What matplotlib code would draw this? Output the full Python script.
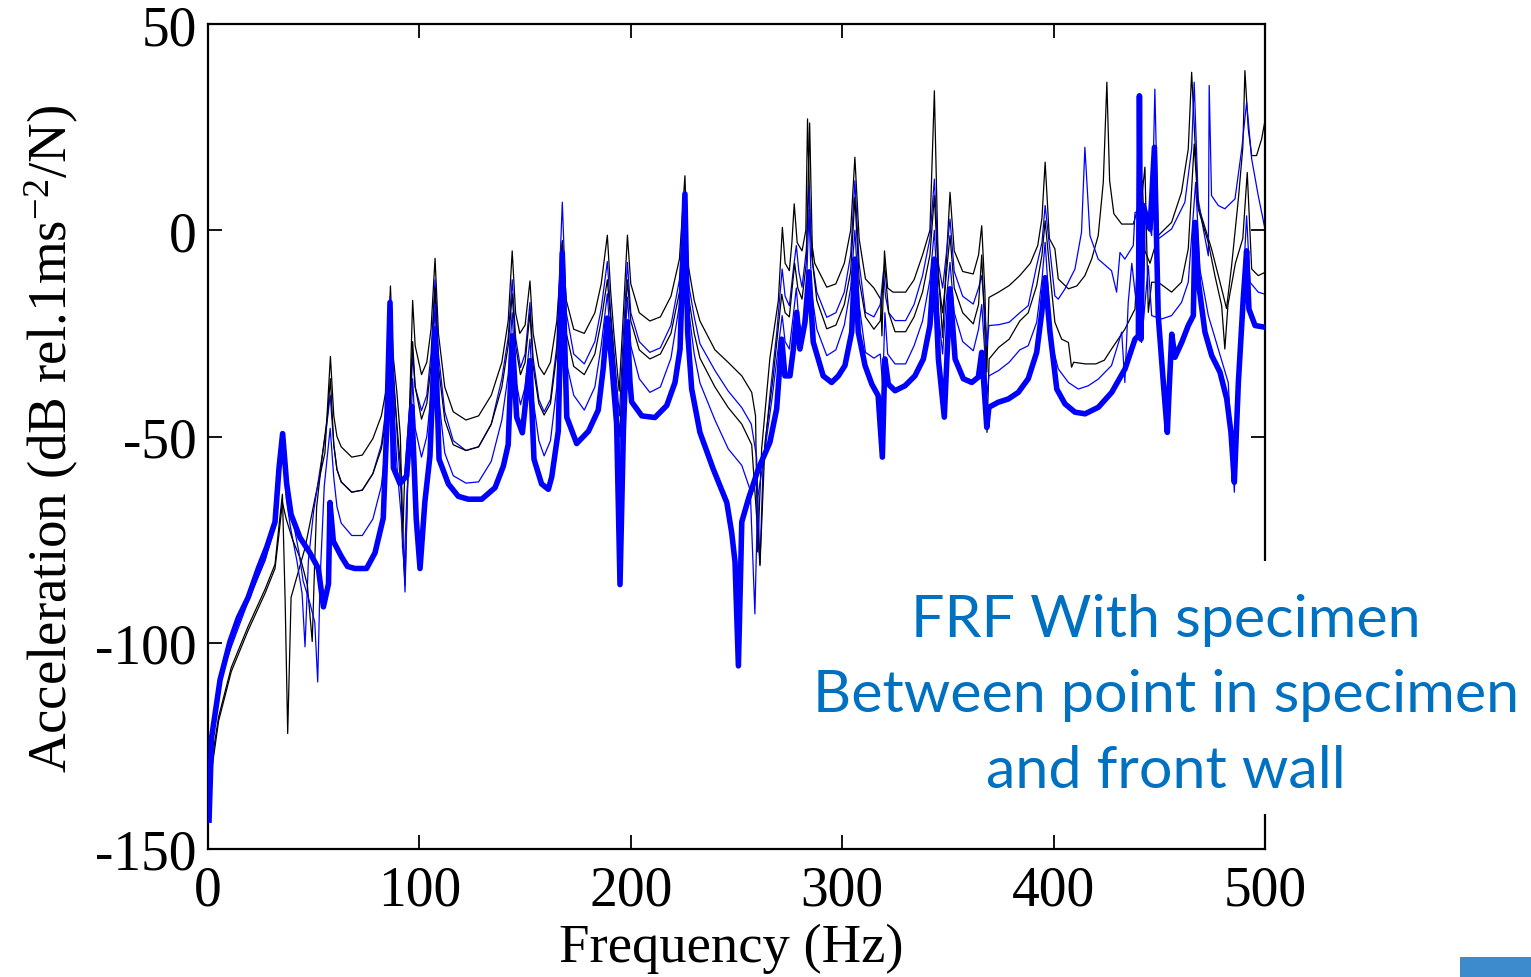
import matplotlib
matplotlib.use('Agg')
import matplotlib.pyplot as plt
from matplotlib.patches import Rectangle

plt.rcParams['font.family'] = ['Liberation Serif', 'DejaVu Serif']
plt.rcParams['mathtext.fontset'] = 'custom'
plt.rcParams['mathtext.rm'] = 'Liberation Serif'
plt.rcParams['mathtext.it'] = 'Liberation Serif:italic'
plt.rcParams['axes.unicode_minus'] = False

x_ticks = [0, 100, 200, 300, 400, 500]
y_ticks = [-150, -100, -50, 0, 50]
x_label = 'Frequency (Hz)'
y_label = r'Acceleration (dB rel.1ms$^{-2}$/N)'
note_lines = ['FRF With specimen', 'Between point in specimen', 'and front wall']

# (frequency Hz, dB)
black_upper = [
    (0.5, -140), (2, -128), (5, -118), (11, -106), (19, -96), (27, -87), (31.7, -81), (33.5, -72),
    (35.2, -64), (36.5, -90), (37.7, -122), (39.3, -89), (45.9, -77), (50.6, -65), (55.3, -54),
    (57.9, -30.6), (59.5, -45), (61, -50), (63, -52.5), (68, -55), (73, -54.5), (78, -50.5), (82, -45),
    (84.5, -38), (86.3, -13.5), (87.5, -30), (89.3, -39), (91, -50), (92.2, -77), (93.2, -86),
    (94.5, -60), (95.8, -35), (96.8, -17), (98, -28), (101, -35), (103.5, -32), (105.5, -24),
    (107.4, -6.8), (109, -25), (112, -38), (116, -44), (122, -46), (128, -45), (134, -40), (139, -32),
    (142, -22), (143.9, -5), (145.5, -20), (147.5, -25), (150, -23), (152.3, -12.3), (153.8, -25),
    (156.5, -33), (159, -35), (162, -32), (165, -22), (167.6, -2.5), (169.5, -17), (173, -24),
    (178, -25), (183, -20), (186, -13), (188.9, -1.2), (190.5, -15), (192, -25), (194.5, -39),
    (196.5, -20), (198.4, -1.2), (200, -13), (204, -20), (209, -22), (214, -21), (219, -16), (223, -7),
    (225.6, 13.2), (227, -8), (230, -17), (232.7, -22), (239.8, -29), (246, -32), (252.5, -35.3),
    (257.2, -39.3), (259, -45), (260, -78), (261.9, -53), (265.8, -31), (269.8, -17), (271.7, 0.7),
    (273, -8), (275, -9.8), (276.2, -3), (277.3, 6.4), (278.7, -3), (281, -5), (282.8, 0),
    (283.6, 27), (285, -1), (287, -8), (292.7, -13.8), (297, -13), (301, -8), (304, 0), (306, 17.7),
    (308, -2), (311, -11.8), (315, -14), (318.2, -16.7), (318.8, -25.6), (320, -5), (321.5, -14),
    (324, -15), (330, -15), (334, -12), (338, -6), (341.5, 0), (343.6, 33.8), (345.5, -10),
    (347.5, -26), (349, -10), (351, 9.2), (353, -5), (357, -10), (362, -10.6), (364.5, -6),
    (366, 1.1), (367.5, -15), (368.4, -34.4), (369.4, -16.3), (374, -15), (379, -13.4), (384, -11),
    (389, -8), (392.5, -3.7), (394.5, 3), (396, 16.5), (398, -2), (400.6, -4.5), (402.2, -11.8),
    (407, -14.2), (411, -13.5), (414.8, -11), (418, -7), (421.1, -1.3), (423.5, 11.6), (425.2, 35.9),
    (426.5, 12), (428.5, 4), (432.2, 1.5), (437.7, 1.5), (439.3, 4.3), (442, 12), (443.2, -5),
    (445.6, -8), (449.5, -1.3), (455.8, 1.9), (460.5, 9.2), (463.7, 19.7), (465.3, 38.3),
    (466.9, 21.3), (468.4, 6), (474.7, -4.5), (479.5, -14.2), (481.8, -19), (484.2, -8.6),
    (487.4, 7.6), (489.5, 20), (490.5, 38.7), (492.1, 24.5), (493.7, 18.1), (496, 18.1),
    (498.4, 22.1), (500, 26.6),
]

black_lower = [
    (0.5, -142), (2, -130), (5, -119), (11, -107), (19, -97), (27, -88), (31.7, -82), (33.5, -74),
    (35.2, -66), (37, -70), (40, -75), (44, -80), (47, -86), (49.3, -99.7), (50.5, -80), (51.4, -67),
    (54, -55), (56.5, -45), (57.9, -36), (59.5, -52), (61, -58), (63, -61), (68, -63.5), (73, -63),
    (78, -59), (82, -53), (84.5, -45), (86.2, -18), (87.5, -35), (89.5, -48), (91.5, -60), (92, -77),
    (93, -60), (95.5, -42), (96.8, -27), (98, -38), (101, -45.8), (103.5, -42), (105.5, -33),
    (107.4, -14), (109, -33), (112, -46), (116, -52), (122, -53.4), (128, -52.5), (134, -47),
    (139, -38), (142, -28), (143.9, -15.4), (145.5, -28), (147.8, -35), (150, -32), (152.3, -20),
    (153.8, -33), (156.5, -42), (159, -44.8), (162, -42), (165, -30), (167.6, -3), (169.5, -25),
    (173, -33), (178, -35), (183, -30), (186, -22), (188.9, -12), (190.5, -22), (192.5, -35),
    (194.7, -50), (196.5, -30), (198.4, -12), (200, -22), (204, -29), (209, -31.2), (214, -30),
    (219, -25), (223, -15), (225.6, 7), (227, -15), (230, -25), (232.7, -31), (239.8, -38),
    (246.1, -43), (252.5, -47), (257.2, -52), (261.1, -81.3), (263.5, -51.4), (267.4, -35.3),
    (271.4, -15.5), (273, -20), (275, -21), (277.5, -8), (279, -14), (281, -16.7), (283, -8),
    (284.6, 26), (286, -8), (288, -17), (292.7, -23.9), (297, -23), (301, -18), (304, -10), (306, 8),
    (308, -12), (311, -21), (315, -24), (318, -22), (320, -8), (322, -20), (325, -24.6), (330, -24.6),
    (334, -21), (338, -15), (341.5, -6), (343.6, 8.4), (345.5, -12), (347.5, -20), (349, -12),
    (351, -1.3), (353, -14), (357, -20), (362, -22.7), (364.5, -18), (366, -6), (367.5, -25),
    (368.5, -49), (369.5, -31.2), (374, -28.4), (379, -26.4), (384, -22), (388, -20), (392, -13.4),
    (394.5, -6), (396, 2.3), (399, -14.2), (400.6, -22.3), (403.8, -26.4), (407, -27.2),
    (408.5, -33.2), (409.5, -32), (415, -32.4), (420, -32.4), (424, -31.5), (427.4, -28.8),
    (433.7, -24), (437.7, -19.9), (438.5, -19.1), (440.8, 3.5), (443.2, 15.3), (444.8, -19.9),
    (446.4, -12.6), (449.5, -12.6), (455.8, -15), (460.5, -12.6), (463.7, -4.5), (466.5, 20.9),
    (468.4, 5.2), (473.2, -3), (476.3, -11), (479.5, -18.3), (481, -28.8), (482.5, -18), (486, -8),
    (489.5, -2), (491.6, 14), (493.7, -9.4), (496.8, -11), (500, -10.2),
]

blue_upper = [
    (0.5, -143), (2, -125), (5, -110), (11, -101), (19, -90), (27, -80), (31.7, -72), (33.5, -60),
    (35.3, -50), (37, -65), (39, -72), (42, -80), (44.5, -88), (45.9, -101), (47.5, -80), (50, -68),
    (53, -58), (56, -48), (57.8, -40), (59.5, -52), (61, -58), (63, -61), (68, -63.5), (73, -63),
    (78, -59), (82, -52), (84.5, -42), (86.2, -16), (87.5, -32), (89.5, -50), (91.5, -65),
    (93.2, -87.7), (94.5, -60), (95.8, -42), (96.8, -30), (98, -38), (101, -43.7), (103.5, -40),
    (105.5, -30), (107.4, -12), (109, -30), (112, -44), (116, -51), (122, -53.4), (128, -52.5),
    (134, -47), (139, -36), (142, -26), (143.9, -12), (145.5, -26), (147.8, -33.3), (150, -30),
    (152.3, -17.5), (153.8, -31), (156.5, -41), (159, -44), (162, -41), (165, -28), (167.6, 6.8),
    (169.5, -20), (173, -30), (178, -32.4), (183, -27), (186, -19), (188.9, -7.6), (190.5, -20),
    (192.5, -32), (194.6, -45), (196.5, -25), (198.4, -7.8), (200, -20), (204, -27), (209, -29.6),
    (214, -28.5), (219, -23), (223, -12), (225.6, 9), (227, -12), (230, -21), (232.7, -27.5),
    (239.8, -34), (246.1, -39), (252.5, -43), (257, -47), (259.5, -55), (261.1, -81), (262.5, -58),
    (265.8, -40), (269, -25), (271.6, -9.4), (273, -16), (275, -18.3), (277, -9), (278.3, -3.7),
    (279.5, -10), (281, -13.8), (283, -5), (284.3, 10.8), (285.5, -6), (288, -15), (292.7, -21.1),
    (297, -20), (301, -15), (304, -6), (306, 12), (308, -8), (311, -19.9), (315, -21), (318, -18),
    (319.5, -10), (320.5, -16), (322, -20), (325, -21.9), (330, -21.9), (334, -18), (338, -11),
    (341.5, -2), (343.6, 12.4), (345.5, -8), (347.5, -14), (349, -7), (351, 2.7), (353, -10),
    (357, -16), (362, -17.9), (364.5, -14), (366, -11), (367.5, -20), (368.5, -28), (369.4, -23.1),
    (374, -22.9), (379, -22.3), (384, -20), (388, -18.3), (392, -8.6), (394.5, -3), (396, 6),
    (400.6, -15.9), (402.2, -16.7), (405.4, -14.2), (410.1, -9.4), (413.2, -0.5), (414.8, 20.1),
    (417.2, -1.3), (421.1, -7), (427.4, -9.8), (429.8, -15), (431.4, -5.4), (433.7, -7),
    (437.7, -3.7), (438.5, 4.3), (443.2, 5.2), (446.4, -1.3), (447.9, 34.2), (449.5, -2.1),
    (455.8, 0.3), (462.1, 6.8), (465.3, 19.7), (466.5, 35.9), (468.4, 7.6), (470.8, 0.3),
    (473.2, -6.2), (473.6, 35.1), (474.7, 8.4), (477.9, 6), (481, 5.2), (485.8, 7.6), (489, 19.7),
    (491.3, 31), (493.7, 17.3), (496.8, 8.4), (500, 0.3),
]

blue_lower = [
    (0.5, -143), (2, -124), (5, -110), (11, -100), (19, -89.5), (27, -80), (31.7, -71), (33.5, -60),
    (35.3, -51), (37, -63), (40, -70), (43, -78), (45, -85), (48, -90), (50.5, -95), (51.9, -109.5),
    (53, -85), (55, -62), (57.8, -48), (59.5, -60), (61, -67), (63, -71), (68, -74), (73, -74),
    (78, -70), (82, -62), (84.5, -50), (86.2, -19), (87.5, -40), (89.5, -58), (91.5, -70),
    (92.8, -82), (94, -65), (95.8, -50), (96.8, -36), (98, -48), (101, -55), (103.5, -50),
    (105.5, -40), (107.4, -18), (109, -40), (112, -54), (116, -59.5), (122, -61.3), (128, -61),
    (134, -56), (139, -46), (142, -35), (143.9, -20), (145.5, -36), (147.8, -42.3), (150, -38),
    (152.3, -26.4), (153.8, -41), (156.5, -51), (159, -54.7), (162, -51), (165, -38), (167.6, -5),
    (169.5, -32), (173, -40), (178, -43.6), (183, -38), (186, -28), (188.9, -15.4), (190.5, -28),
    (192.5, -40), (194.6, -55), (196.5, -33), (198.4, -16.2), (200, -28), (204, -36), (209, -39.3),
    (214, -38), (219, -31), (223, -18), (225.6, 8), (227, -18), (230, -30), (232.7, -37),
    (239.8, -46), (246.1, -53), (252.5, -57), (256.5, -63), (258.7, -93), (260, -65), (263, -55),
    (267, -40), (271.6, -20.7), (273, -27), (275, -28.8), (277, -20), (278.3, -14), (279.5, -22),
    (281, -25), (283, -15), (284.3, 5), (285.5, -15), (288, -24), (292.7, -30.4), (297, -29),
    (301, -23), (304, -14), (306, 0), (308, -18), (311, -29.6), (315, -31), (318, -30),
    (319.2, -38), (320.2, -20), (321.5, -30), (325, -32.4), (330, -32.4), (334, -28), (338, -22),
    (341.5, -12), (343.6, 0), (345.5, -20), (347.5, -30), (349, -18), (351, -7.8), (353, -20),
    (357, -27), (362, -29.2), (364.5, -24), (366, -18), (367.5, -30), (368.5, -40), (369.4, -35.3),
    (374, -34), (379, -32), (384, -29), (388, -28), (392, -22.3), (394.5, -12), (396, -2.9),
    (399, -27.2), (402.2, -33.6), (407, -36.9), (411.7, -38.5), (416.4, -37.7), (421.1, -36.1),
    (427.4, -32.8), (432.2, -24.7), (433.7, -36.9), (435.3, -17.5), (437, -8), (438.5, -15),
    (441.6, -27.2), (444.8, -8.6), (446.4, -20.7), (451.1, -21.5), (455.8, -20.7), (460.5, -17.5),
    (463.7, -12.6), (467.2, 11.6), (469.2, -9.4), (473.2, -20.7), (477.9, -28.8), (482.6, -36.9),
    (485.5, -63.5), (487.4, -32.8), (489.7, -12.6), (491.3, 3.5), (492.9, -12.6), (496.8, -15),
    (500, -15.5),
]

blue_thick = [
    (0.5, -143), (1.7, -123), (5.7, -109), (10.4, -99.7), (14.3, -94), (19, -89), (23.8, -82),
    (27.8, -76.8), (31.7, -70.7), (33.6, -57.6), (35.3, -49.3), (37.2, -61.4), (39.3, -68.9),
    (43.5, -74.5), (48.2, -78.2), (52.2, -82), (54.6, -91.3), (57, -85.7), (57.7, -66), (59.3, -75.4),
    (63.2, -79.2), (66, -81.5), (69.5, -82), (75, -82), (79, -78.2), (82.9, -69.8), (84.5, -48.3),
    (86.1, -17.5), (87.7, -57.6), (90.8, -61.4), (94, -59.5), (96.4, -42.7), (98.5, -70),
    (100.3, -82), (102.6, -65.8), (105, -54.7), (107.4, -23.9), (109.3, -55.5), (113.7, -61.5),
    (118.4, -64.5), (123.1, -65.2), (129.5, -65.2), (135.8, -62.4), (139.7, -57.2), (142, -52),
    (143.9, -25.6), (146, -45.3), (148.7, -49.1), (152.3, -31.6), (154.2, -55.5), (157.8, -61.5),
    (161, -62.8), (162.6, -59.8), (165.7, -48.7), (167.6, -5.5), (169.7, -45.3), (174.4, -51.7),
    (180, -48.7), (184.6, -43.6), (187, -33.3), (188.9, -21.3), (191, -32.4), (193.3, -47),
    (194.9, -85.9), (196.5, -48.7), (198.4, -22.2), (199.6, -36.8), (200.4, -41.6), (205.2, -45),
    (211.4, -45.4), (217, -42.5), (220.9, -36.9), (223.3, -28.8), (225.6, 8.8), (226.9, -24.7),
    (228.8, -38.5), (232.7, -49), (239, -57.9), (245.4, -66), (247.7, -73.2), (249.3, -80.4),
    (250.9, -105.6), (252.5, -70.7), (255.6, -65.2), (260.3, -57.9), (265.8, -51.4), (269, -43.3),
    (271.4, -26.4), (272.9, -35.3), (275.3, -35.3), (276.9, -28.8), (278.5, -19.9), (280, -28.8),
    (282.4, -22.3), (284.3, -10.1), (286.3, -27.1), (291, -35.3), (295, -36.9), (298.2, -35.3),
    (301.3, -32.8), (304.5, -24.7), (306, -7), (307.6, -24.7), (310.8, -32.8), (314, -37.3),
    (317, -40.1), (319, -55), (320.2, -31.2), (321.8, -37.3), (325, -38.9), (329.7, -37.7),
    (334.4, -35.3), (338.4, -31.2), (341.5, -23.1), (343.6, -7), (345.5, -31.2), (348.3, -45.3),
    (351, -14.2), (353.4, -31.2), (357.3, -36), (361.3, -36.9), (364.4, -35.6), (366, -29.6),
    (368.4, -47.8), (369.4, -42.9), (373.8, -41.7), (378.6, -40.9), (383.3, -39.3), (388, -36),
    (392, -29.6), (394.4, -19.9), (396, -11.5), (398.3, -24.7), (401.5, -38.5), (405.4, -42.1),
    (410.1, -44.1), (414.9, -44.5), (421.2, -42.9), (427.5, -39.3), (433.8, -33.6), (438.5, -26.4),
    (440.1, -25.6), (440.6, 32.6), (441.3, -26.4), (442.4, 6), (445.6, 0.3), (447.7, 20.1),
    (449.5, -20.7), (451.9, -36.9), (453.8, -49), (454.6, -39.3), (455.9, -25.2), (457.4, -30.8),
    (460.6, -27.2), (463.7, -23.1), (466.1, -20.7), (466.9, 1.9), (468.5, -12.6), (471.6, -24.7),
    (474.8, -30.4), (478.7, -34.4), (481.9, -40.9), (483.9, -49), (485.5, -61.1), (487.4, -36.9),
    (489.7, -16.7), (491.3, -5), (492.4, -19.1), (495.3, -23.1), (500, -23.5),
]

W, H = 1531, 978
fig = plt.figure(figsize=(W / 100, H / 100), dpi=100)
ax = fig.add_axes([208 / W, 1 - 850 / H, (1265 - 208) / W, (850 - 25) / H])

for pts, col in [(black_upper, '#000000'), (blue_upper, '#0000FF'),
                 (black_lower, '#000000'), (blue_lower, '#0000FF')]:
    f, v = zip(*pts)
    ax.plot(f, v, color=col, lw=0.9, zorder=2)
f, v = zip(*blue_thick)
ax.plot(f, v, color='#0000FF', lw=4.0, solid_joinstyle='round', zorder=3)

ax.set_xlim(0, 500)
ax.set_ylim(-150, 50)
ax.set_xticks(x_ticks)
ax.set_yticks(y_ticks)
ax.tick_params(direction='in', length=10, width=1.3, top=True, right=True,
               labelsize=40, colors='black')
ax.tick_params(axis='x', pad=11)
ax.tick_params(axis='y', pad=8)
for s in ax.spines.values():
    s.set_linewidth(1.6)

fig.text(731 / W, 1 - 949 / H, x_label, fontsize=39.3, ha='center', va='center')
fig.text(52 / W, 1 - 439 / H, y_label, fontsize=39.5, rotation=90, ha='center', va='center')

# white note box hiding part of the right frame
fig.add_artist(Rectangle((808 / W, 1 - 815 / H), (W - 808) / W, (815 - 562) / H,
                         transform=fig.transFigure, facecolor='white', edgecolor='none', zorder=5))
for line, yb in zip(note_lines, [637, 712, 788]):
    fig.text(1166 / W, 1 - yb / H, line, fontsize=42.7, family='Lato', color='#0070C0',
             ha='center', va='baseline', zorder=6)

fig.add_artist(Rectangle((1460 / W, 0), (W - 1460) / W, 20 / H, transform=fig.transFigure,
                         facecolor='#3D8BCD', edgecolor='none', zorder=5))

fig.savefig('out.png', dpi=100)
